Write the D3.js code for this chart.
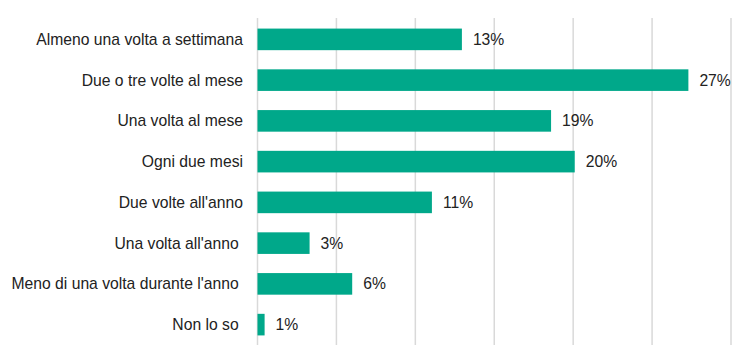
<!DOCTYPE html>
<html><head><meta charset="utf-8">
<script src="https://cdn.jsdelivr.net/npm/d3@7"></script>
<style>
html,body{margin:0;padding:0;background:#fff;}
svg{display:block;}
text{font-family:"Liberation Sans",Arial,sans-serif;}
</style></head>
<body>
<svg id="chart" width="750" height="364"></svg>
<script>
const categories = [
  "Almeno una volta a settimana",
  "Due o tre volte al mese",
  "Una volta al mese",
  "Ogni due mesi",
  "Due volte all'anno",
  "Una volta all'anno ",
  "Meno di una volta durante l'anno ",
  "Non lo so "
];
const values = [12.95, 27.3, 18.6, 20.1, 11.05, 3.3, 6.0, 0.45];
const valueLabels = ["13%", "27%", "19%", "20%", "11%", "3%", "6%", "1%"];
const gridTicks = [0, 5, 10, 15, 20, 25, 30];

const svg = d3.select("#chart");
const x = d3.scaleLinear().domain([0, 30]).range([257.5, 731]);
const y = d3.scaleBand().domain(categories).range([19, 345]).paddingInner(0.47).paddingOuter(0.235);

svg.append("g").selectAll("line").data(gridTicks).join("line")
  .attr("x1", d => x(d)).attr("x2", d => x(d))
  .attr("y1", 18).attr("y2", 345)
  .attr("stroke", "#d9d9d9").attr("stroke-width", 1.5);

svg.append("g").selectAll("rect").data(categories).join("rect")
  .attr("x", x(0))
  .attr("y", d => y(d))
  .attr("width", (d, i) => x(values[i]) - x(0))
  .attr("height", y.bandwidth())
  .attr("fill", "#00a88a");

svg.append("g").selectAll("text").data(categories).join("text")
  .attr("x", 243)
  .attr("y", d => y(d) + y.bandwidth() / 2)
  .attr("dy", "0.35em")
  .attr("text-anchor", "end")
  .attr("font-size", "15.7px")
  .attr("fill", "#222")
  .style("white-space", "pre")
  .attr("xml:space", "preserve")
  .text(d => d);

svg.append("g").selectAll("text").data(categories).join("text")
  .attr("x", (d, i) => x(values[i]) + 11)
  .attr("y", d => y(d) + y.bandwidth() / 2)
  .attr("dy", "0.35em")
  .attr("font-size", "15.7px")
  .attr("fill", "#222")
  .text((d, i) => valueLabels[i]);
</script>
</body></html>
